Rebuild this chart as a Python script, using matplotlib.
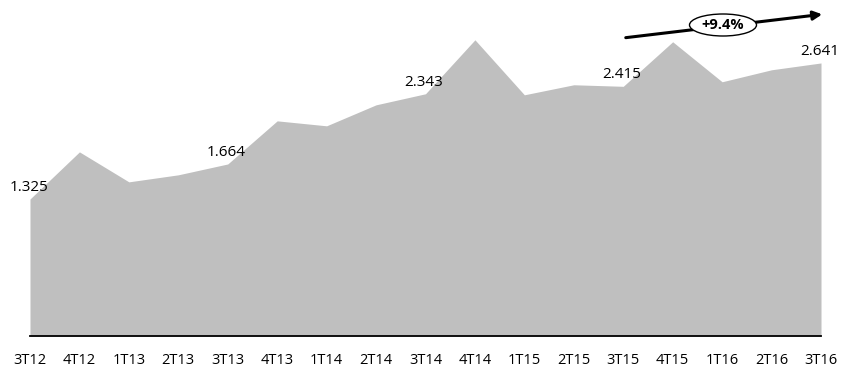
import matplotlib
matplotlib.use("Agg")
import matplotlib.pyplot as plt
from matplotlib.patches import Ellipse

quarters = ["3T12", "4T12", "1T13", "2T13", "3T13", "4T13", "1T14", "2T14", "3T14",
            "4T14", "1T15", "2T15", "3T15", "4T15", "1T16", "2T16", "3T16"]
values = [1.325, 1.781, 1.491, 1.559, 1.664, 2.081, 2.033, 2.236, 2.343,
          2.865, 2.333, 2.430, 2.415, 2.846, 2.459, 2.575, 2.641]
labeled = ["3T12", "3T13", "3T14", "3T15", "3T16"]
growth_text = "+9.4%"

plt.rcParams['font.family'] = ['Open Sans', 'DejaVu Sans']

W, H = 841, 369
fig = plt.figure(figsize=(W / 100, H / 100), dpi=100)
left, right, bottom, top = 30 / W, 821 / W, 1 - 336 / H, 1.0
ax = fig.add_axes([left, bottom, right - left, top - bottom])

x = list(range(len(quarters)))
ax.fill_between(x, 0, values, color="#BFBFBF", linewidth=0)
ax.set_xlim(0, len(quarters) - 1)
ax.set_ylim(0, 3.25)
ax.set_xticks(x)
ax.set_xticklabels(quarters, fontsize=10.5)
ax.tick_params(axis='x', length=0, pad=12)
ax.set_yticks([])
for s in ["top", "left", "right"]:
    ax.spines[s].set_visible(False)
ax.spines["bottom"].set_linewidth(1.3)
ax.spines["bottom"].set_color("black")

for q in labeled:
    i = quarters.index(q)
    ax.annotate(f"{values[i]:.3f}", (i, values[i]), xytext=(-1, 3), textcoords="offset points",
                ha="center", va="bottom", fontsize=11, annotation_clip=False)

def fx(px):
    return px / W

def fy(py):
    return 1 - py / H

fig.add_artist(matplotlib.patches.FancyArrowPatch((fx(623), fy(38)), (fx(825), fy(14)),
               transform=fig.transFigure, arrowstyle="-|>", mutation_scale=13,
               color="black", linewidth=2.2))
fig.add_artist(Ellipse((fx(723), fy(25)), 67 / W, 22 / H, transform=fig.transFigure,
                       facecolor="white", edgecolor="black", linewidth=1.0))
fig.text(fx(723), fy(25), growth_text, ha="center", va="center", fontsize=10.5, fontweight="bold")

fig.savefig("out.png", dpi=100)
